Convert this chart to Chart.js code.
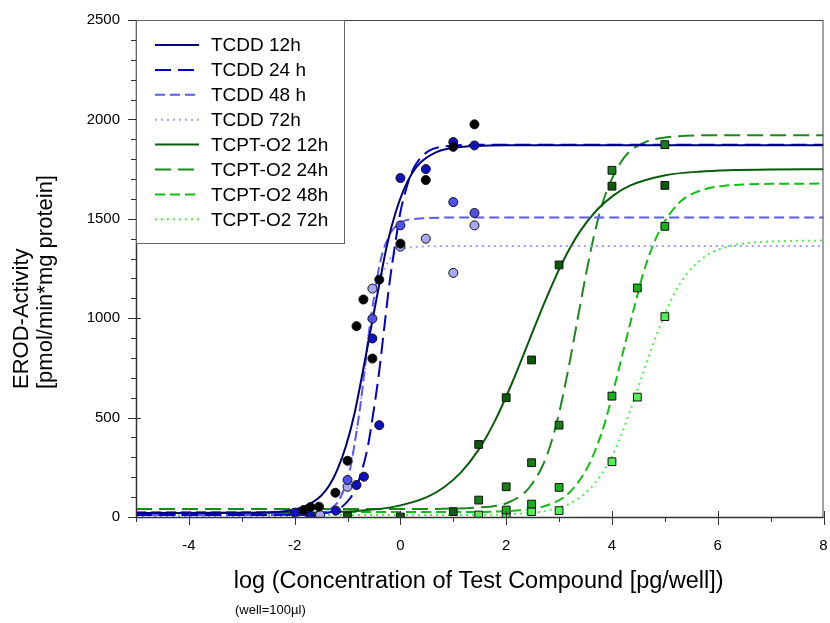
<!DOCTYPE html>
<html>
<head>
<meta charset="utf-8">
<script src="https://cdn.jsdelivr.net/npm/chart.js@4.4.1/dist/chart.umd.min.js"></script>
<style>
  html, body { margin: 0; padding: 0; background: #fff; }
</style>
</head>
<body>
<canvas id="erodChart" width="830" height="623"></canvas>
<script>
// Fitted curves (x = log conc, y = EROD activity)
const tcdd12FitX = [-5, -3, -2.12, -1.81, -1.50, -1.34, -1.19, -1.03, -0.87, -0.72, -0.56, -0.40, -0.25, -0.09, 0.07, 0.22, 0.38, 0.69, 1.00, 2, 8];
const tcdd12FitY = [20, 21, 32, 53, 107, 161, 240, 357, 518, 719, 945, 1171, 1372, 1533, 1650, 1729, 1783, 1837, 1857, 1870, 1870];
const tcdd24FitX = [-5, -2, -1.35, -1.14, -0.94, -0.83, -0.73, -0.62, -0.52, -0.41, -0.31, -0.21, -0.10, 0.00, 0.11, 0.21, 0.32, 0.52, 0.73, 1.5, 8];
const tcdd24FitY = [10, 11, 22, 44, 98, 152, 232, 349, 511, 714, 942, 1169, 1372, 1534, 1651, 1731, 1785, 1839, 1860, 1872, 1873];
const tcdd48FitX = [-5, -2, -1.50, -1.34, -1.17, -1.09, -1.00, -0.92, -0.84, -0.75, -0.67, -0.59, -0.50, -0.42, -0.34, -0.25, -0.17, 0.00, 0.16, 1, 8];
const tcdd48FitY = [10, 10, 20, 37, 80, 124, 188, 282, 412, 576, 758, 941, 1104, 1234, 1328, 1392, 1436, 1479, 1496, 1506, 1506];
const tcdd72FitX = [-5, -2, -1.53, -1.37, -1.20, -1.12, -1.03, -0.95, -0.87, -0.78, -0.70, -0.62, -0.53, -0.45, -0.37, -0.28, -0.20, -0.03, 0.13, 1, 8];
const tcdd72FitY = [5, 5, 14, 29, 69, 108, 167, 252, 370, 518, 684, 850, 998, 1116, 1201, 1260, 1299, 1339, 1354, 1363, 1363];
const tcpt12FitX = [-5, -2, -0.78, -0.13, 0.51, 0.83, 1.15, 1.47, 1.79, 2.11, 2.43, 2.75, 3.07, 3.39, 3.71, 4.03, 4.35, 4.99, 5.64, 7, 8];
const tcpt12FitY = [20, 22, 32, 51, 101, 151, 226, 335, 485, 674, 885, 1095, 1284, 1434, 1543, 1618, 1668, 1718, 1737, 1748, 1749];
const tcpt24FitX = [-5, 0, 1.73, 2.05, 2.37, 2.53, 2.70, 2.86, 3.02, 3.18, 3.34, 3.50, 3.66, 3.82, 3.99, 4.15, 4.31, 4.63, 4.95, 6, 8];
const tcpt24FitY = [40, 40, 53, 74, 128, 183, 264, 382, 546, 751, 980, 1209, 1414, 1578, 1696, 1777, 1832, 1886, 1907, 1920, 1920];
const tcpt48FitX = [-5, 1, 2.36, 2.73, 3.11, 3.29, 3.48, 3.67, 3.86, 4.04, 4.23, 4.42, 4.60, 4.79, 4.98, 5.17, 5.35, 5.73, 6.10, 7, 8];
const tcpt48FitY = [25, 25, 36, 55, 103, 151, 222, 326, 469, 649, 851, 1053, 1233, 1376, 1480, 1551, 1599, 1647, 1665, 1676, 1677];
const tcpt72FitX = [-5, 1, 2.39, 2.82, 3.26, 3.47, 3.69, 3.91, 4.13, 4.34, 4.56, 4.78, 5.00, 5.21, 5.43, 5.65, 5.86, 6.30, 6.73, 8];
const tcpt72FitY = [10, 10, 19, 35, 75, 115, 174, 262, 382, 532, 701, 870, 1020, 1140, 1228, 1287, 1327, 1367, 1382, 1391];

// Measured points
const tcdd12PtsX = [-1.83, -1.70, -1.54, -1.23, -1.00, -0.83, -0.70, -0.53, -0.40, 0.00, 0.48, 1.00, 1.40];
const tcdd12PtsY = [35, 50, 52, 122, 283, 960, 1094, 797, 1194, 1375, 1695, 1862, 1975];
const tcdd24PtsX = [-2.00, -1.70, -1.22, -0.83, -0.69, -0.53, -0.40, 0.00, 0.48, 1.00, 1.40];
const tcdd24PtsY = [22, 5, 32, 161, 203, 898, 462, 1705, 1750, 1886, 1869];
const tcdd48PtsX = [-1.00, -0.53, 0.00, 1.00, 1.40];
const tcdd48PtsY = [186, 998, 1467, 1584, 1529];
const tcdd72PtsX = [-1.52, -1.00, -0.53, 0.00, 0.48, 1.00, 1.40];
const tcdd72PtsY = [10, 152, 1149, 1360, 1400, 1228, 1467];
const tcpt12PtsX = [-1.00, 0.00, 1.00, 1.48, 2.00, 2.48, 3.00, 4.00, 5.00];
const tcpt12PtsY = [5, 0, 27, 365, 600, 790, 1268, 1664, 1668];
const tcpt24PtsX = [1.48, 2.00, 2.48, 3.00, 4.00, 5.00];
const tcpt24PtsY = [85, 152, 273, 462, 1744, 1873];
const tcpt48PtsX = [2.00, 2.48, 3.00, 4.00, 4.48, 5.00];
const tcpt48PtsY = [35, 65, 149, 608, 1152, 1462];
const tcpt72PtsX = [1.48, 2.00, 2.48, 3.00, 4.00, 4.48, 5.00];
const tcpt72PtsY = [10, 7, 27, 32, 278, 603, 1008];

const seriesNames = ['TCDD 12h', 'TCDD 24 h', 'TCDD 48 h', 'TCDD 72h', 'TCPT-O2 12h', 'TCPT-O2 24h', 'TCPT-O2 48h', 'TCPT-O2 72h'];
const xTitle = 'log (Concentration of Test Compound [pg/well])';
const xSubTitle = '(well=100\u00b5l)';
const yTitle = ['EROD-Activity', '[pmol/min*mg protein]'];

const FONT = '"Liberation Sans", Arial, sans-serif';

function pairs(xs, ys) {
  return xs.map((x, i) => ({ x: x, y: ys[i] }));
}

function fitLine(label, xs, ys, color, dash, width) {
  return {
    type: 'line',
    label: label,
    data: pairs(xs, ys),
    borderColor: color,
    borderDash: dash,
    borderWidth: width,
    pointRadius: 0,
    fill: false,
    cubicInterpolationMode: 'monotone',
    order: 2
  };
}

function pointSet(xs, ys, color, style, radius) {
  return {
    type: 'scatter',
    data: pairs(xs, ys),
    backgroundColor: color,
    borderColor: '#111',
    borderWidth: 1,
    pointStyle: style,
    pointRadius: radius,
    showLine: false,
    order: 1
  };
}

const lines = [
  fitLine(seriesNames[0], tcdd12FitX, tcdd12FitY, '#00007a', [], 2),
  fitLine(seriesNames[1], tcdd24FitX, tcdd24FitY, '#0000c8', [16, 7], 2),
  fitLine(seriesNames[2], tcdd48FitX, tcdd48FitY, '#5a5aff', [10, 5], 2),
  fitLine(seriesNames[3], tcdd72FitX, tcdd72FitY, '#a0a0ff', [2, 4], 2),
  fitLine(seriesNames[4], tcpt12FitX, tcpt12FitY, '#0a5c0a', [], 2),
  fitLine(seriesNames[5], tcpt24FitX, tcpt24FitY, '#1a8c1a', [16, 7], 2),
  fitLine(seriesNames[6], tcpt48FitX, tcpt48FitY, '#10c010', [10, 5], 2),
  fitLine(seriesNames[7], tcpt72FitX, tcpt72FitY, '#50ee50', [2, 4], 2)
];

const points = [
  pointSet(tcdd12PtsX, tcdd12PtsY, '#000000', 'circle', 4.5),
  pointSet(tcdd24PtsX, tcdd24PtsY, '#1010c0', 'circle', 4.5),
  pointSet(tcdd48PtsX, tcdd48PtsY, '#5050ee', 'circle', 4.5),
  pointSet(tcdd72PtsX, tcdd72PtsY, '#a8a8f0', 'circle', 4.5),
  pointSet(tcpt12PtsX, tcpt12PtsY, '#0b5a0b', 'rect', 5.5),
  pointSet(tcpt24PtsX, tcpt24PtsY, '#187c18', 'rect', 5.5),
  pointSet(tcpt48PtsX, tcpt48PtsY, '#18b018', 'rect', 5.5),
  pointSet(tcpt72PtsX, tcpt72PtsY, '#55ee55', 'rect', 5.5)
];

// frame, tick marks, titles and the boxed legend
const decor = {
  id: 'decor',
  afterDraw(chart) {
    const { ctx, chartArea: a, scales: { x, y } } = chart;
    ctx.save();

    // ticks
    ctx.strokeStyle = '#333';
    ctx.lineWidth = 1;
    ctx.beginPath();
    for (let v = 0; v <= 2500; v += 100) {
      const py = Math.round(y.getPixelForValue(v)) + 0.5;
      if (v % 500 === 0) { ctx.moveTo(a.left - 8, py); ctx.lineTo(a.left + 5, py); }
      else { ctx.moveTo(a.left - 5, py); ctx.lineTo(a.left, py); }
    }
    for (let v = -5; v <= 8; v++) {
      const px = Math.round(x.getPixelForValue(v)) + 0.5;
      if (v % 2 === 0) { ctx.moveTo(px, a.bottom - 6); ctx.lineTo(px, a.bottom + 8); }
      else { ctx.moveTo(px, a.bottom); ctx.lineTo(px, a.bottom + 5); }
    }
    ctx.stroke();

    // frame
    ctx.strokeStyle = '#444';
    ctx.lineWidth = 1;
    ctx.strokeRect(a.left + 0.5, a.top + 0.5, a.right - a.left - 1, a.bottom - a.top);
    ctx.strokeStyle = '#333';
    ctx.lineWidth = 1.5;
    ctx.beginPath();
    ctx.moveTo(a.left + 0.5, a.top);
    ctx.lineTo(a.left + 0.5, a.bottom + 0.5);
    ctx.lineTo(a.right, a.bottom + 0.5);
    ctx.stroke();

    // axis titles
    ctx.fillStyle = '#000';
    ctx.textBaseline = 'middle';
    ctx.textAlign = 'center';
    ctx.font = '23.5px ' + FONT;
    ctx.fillText(xTitle, (a.left + a.right) / 2 - 1, 582);
    ctx.textAlign = 'left';
    ctx.font = '13px ' + FONT;
    ctx.fillText(xSubTitle, 235, 610);

    ctx.save();
    ctx.translate(22, 389);
    ctx.rotate(-Math.PI / 2);
    ctx.textAlign = 'left';
    ctx.font = '22px ' + FONT;
    ctx.fillText(yTitle[0], 0, 0);
    ctx.fillText(yTitle[1], 0, 24);
    ctx.restore();

    // legend
    const lx = a.left + 0.5, ly = a.top + 0.5, lw = 208, lh = 223;
    ctx.fillStyle = '#fff';
    ctx.fillRect(lx, ly, lw, lh);
    ctx.strokeStyle = '#666';
    ctx.lineWidth = 1;
    ctx.strokeRect(lx, ly, lw, lh);
    ctx.font = '19px ' + FONT;
    ctx.textAlign = 'left';
    lines.forEach((ds, i) => {
      const yy = a.top + 25 + i * 24.9;
      ctx.strokeStyle = ds.borderColor;
      ctx.lineWidth = ds.borderWidth;
      ctx.setLineDash(ds.borderDash);
      ctx.beginPath();
      ctx.moveTo(a.left + 19, yy);
      ctx.lineTo(a.left + 63, yy);
      ctx.stroke();
      ctx.setLineDash([]);
      ctx.fillStyle = '#000';
      ctx.fillText(ds.label, a.left + 75, yy + 1);
    });

    ctx.restore();
  }
};

new Chart(document.getElementById('erodChart'), {
  type: 'scatter',
  data: { datasets: lines.concat(points) },
  options: {
    responsive: false,
    animation: false,
    layout: { padding: { top: 20, right: 6, left: 0, bottom: 0 } },
    plugins: { legend: { display: false }, tooltip: { enabled: false } },
    scales: {
      x: {
        type: 'linear', min: -5, max: 8,
        afterFit: s => { s.height = 106; s.paddingLeft = 0; s.paddingRight = 0; },
        border: { display: false },
        grid: { display: false, drawTicks: false },
        ticks: {
          stepSize: 1, autoSkip: false, maxRotation: 0, padding: 20, color: '#000',
          font: { family: FONT, size: 15 },
          callback: v => (v % 2 === 0 ? String(v) : '')
        }
      },
      y: {
        type: 'linear', min: 0, max: 2500,
        afterFit: s => { s.width = 136; s.paddingTop = 0; s.paddingBottom = 0; },
        border: { display: false },
        grid: { display: false, drawTicks: false },
        ticks: {
          stepSize: 500, padding: 16, color: '#000',
          font: { family: FONT, size: 15 },
          callback: v => String(v)
        }
      }
    }
  },
  plugins: [decor]
});
</script>
</body>
</html>
